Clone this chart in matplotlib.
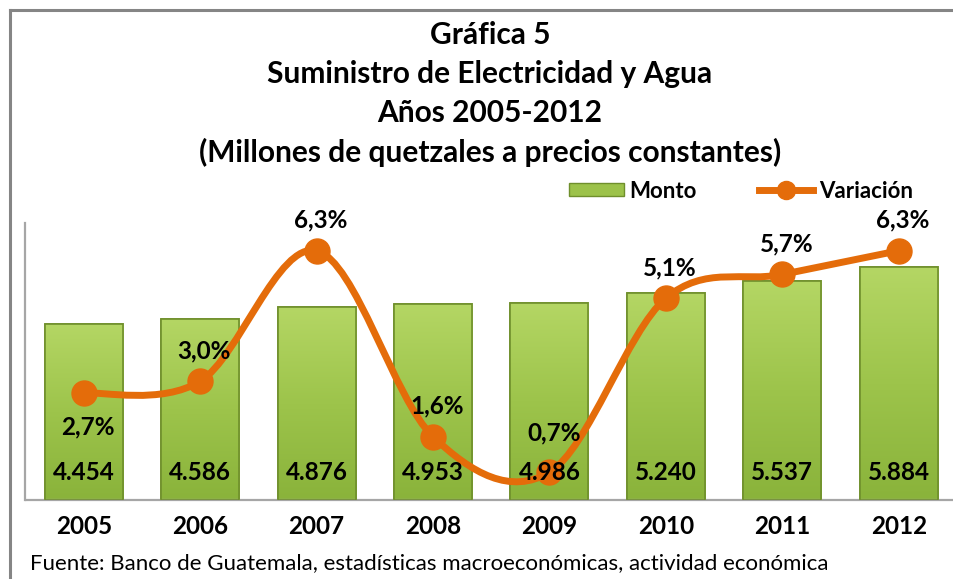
import numpy as np
import matplotlib
matplotlib.use('Agg')
import matplotlib.pyplot as plt
from matplotlib.path import Path
from matplotlib.patches import PathPatch, Patch
from matplotlib.lines import Line2D
from matplotlib.colors import LinearSegmentedColormap

plt.rcParams['font.family'] = ['Lato', 'DejaVu Sans']

# data
years = ['2005', '2006', '2007', '2008', '2009', '2010', '2011', '2012']
monto = [4454, 4586, 4876, 4953, 4986, 5240, 5537, 5884]
variacion = [2.7, 3.0, 6.3, 1.6, 0.7, 5.1, 5.7, 6.3]

titulo = ['Gráfica 5', 'Suministro de Electricidad y Agua', 'Años 2005-2012',
          '(Millones de quetzales a precios constantes)']
fuente = 'Fuente: Banco de Guatemala, estadísticas macroeconómicas, actividad económica'

ORANGE = '#E46C0A'
GREEN = '#9CC24A'
GREEN_EDGE = '#6F8F2C'


def smooth_path(xs, ys):
    ''' bezier path through the points, like excel's smoothed line '''
    pts = np.column_stack([xs, ys]).astype(float)
    ext = np.vstack([pts[0], pts, pts[-1]])
    verts = [pts[0]]
    codes = [Path.MOVETO]
    for i in range(len(pts) - 1):
        p0, p1, p2, p3 = ext[i], ext[i + 1], ext[i + 2], ext[i + 3]
        c1 = p1 + (p2 - p0) / 6.0
        c2 = p2 - (p3 - p1) / 6.0
        verts += [c1, c2, p2]
        codes += [Path.CURVE4] * 3
    return Path(verts, codes)


fig = plt.figure(figsize=(9.54, 5.79), dpi=100)

# outer frame (only top and left visible in the original crop)
fig.add_artist(Line2D([10/954, 10/954], [0, 1 - 10/579], transform=fig.transFigure,
                      color='#858585', lw=2.2))
fig.add_artist(Line2D([10/954, 1], [1 - 10/579, 1 - 10/579], transform=fig.transFigure,
                      color='#858585', lw=2.2))

for k, line in enumerate(titulo):
    fig.text(490/954, 1 - (35 + 39.2*k)/579, line, ha='center', va='center',
             fontsize=21.5, fontweight='bold')

ax = fig.add_axes([25.5/954, 79/579, (957 - 25.5)/954, 277/579])
x = np.arange(len(years))

bars = ax.bar(x, monto, width=0.67, color=GREEN, edgecolor=GREEN_EDGE, linewidth=1.2, zorder=2)
cmap = LinearSegmentedColormap.from_list('g', ['#B4D664', '#9DC44B', '#8AB33B'])
grad = np.linspace(0, 1, 100).reshape(-1, 1)
for b in bars:
    x0, y0, w, h = b.get_x(), b.get_y(), b.get_width(), b.get_height()
    im = ax.imshow(grad, cmap=cmap, extent=[x0, x0 + w, y0, y0 + h], origin='upper',
                   aspect='auto', zorder=2.5)
    im.set_clip_path(b)
    ax.add_patch(plt.Rectangle((x0, y0), w, h, fill=False, edgecolor=GREEN_EDGE, lw=1.2, zorder=2.6))

ax.set_xlim(-0.5, 7.5)
ax.set_ylim(0, 7000)
ax.set_yticks([])
ax.set_xticks(x)
ax.set_xticklabels(years, fontsize=17.5, fontweight='bold')
ax.tick_params(axis='x', length=0, pad=11)
for s in ['top', 'right']:
    ax.spines[s].set_visible(False)
for s in ['left', 'bottom']:
    ax.spines[s].set_color('#A6A6A6')
    ax.spines[s].set_linewidth(1.6)

ax2 = ax.twinx()
ax2.set_ylim(0, 7.0)
ax2.set_xlim(-0.5, 7.5)
ax2.axis('off')
ax2.add_patch(PathPatch(smooth_path(x, variacion), fill=False, edgecolor=ORANGE, lw=5,
                        capstyle='round', zorder=3))
ax2.plot(x, variacion, 'o', color=ORANGE, markersize=18, zorder=4)

# bar value labels sit on top of the line in the original
for xi, v in zip(x, monto):
    ax2.annotate(f'{v:,}'.replace(',', '.'), (xi, 0), xytext=(0, 19.5), textcoords='offset points',
                 ha='center', va='center', fontsize=17.5, fontweight='bold', zorder=6)

for i, (xi, v) in enumerate(zip(x, variacion)):
    dy = -24 if i == 0 else 22
    if i == 4:
        dy = 28
    ax2.annotate(f'{v:.1f}'.replace('.', ',') + '%', (xi, v), xytext=(3, dy),
                 textcoords='offset points', ha='center', va='center',
                 fontsize=17.5, fontweight='bold', zorder=5)

handles = [Patch(facecolor=GREEN, edgecolor=GREEN_EDGE),
           Line2D([], [], color=ORANGE, lw=5, marker='o', markersize=13)]
fig.legend(handles, ['Monto', 'Variación'], ncol=2, loc='center left',
           bbox_to_anchor=(558/954, 1 - 191/579), frameon=False, handlelength=2.45,
           handleheight=0.55, handletextpad=0.25, columnspacing=2.8, borderpad=0,
           prop={'size': 16, 'weight': 'bold'})

fig.text(30/954, 1 - 563/579, fuente, ha='left', va='center', fontsize=16)

fig.savefig('out.png', dpi=100)
